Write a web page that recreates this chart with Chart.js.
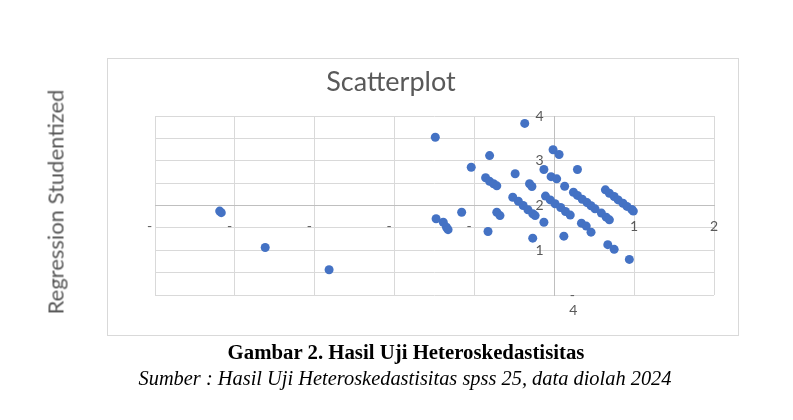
<!DOCTYPE html>
<html>
<head>
<meta charset="utf-8">
<script src="https://cdn.jsdelivr.net/npm/chart.js@4.4.1/dist/chart.umd.min.js"></script>
<style>
  html, body { margin: 0; padding: 0; background: #ffffff; }
  #wrap { position: relative; width: 793px; height: 420px; overflow: hidden; background: #fff; }
  #box { position: absolute; left: 107px; top: 58px; width: 632px; height: 278px; border: 1px solid #d9d9d9; box-sizing: border-box; }
  #c { position: absolute; left: 0; top: 0; }
  .t { position: absolute; white-space: nowrap; }
  #title { left: 391px; top: 80px; transform: translate(-50%, -50%); font-family: Lato, "Noto Sans", sans-serif; font-size: 27px; color: #595959; }
  #ytitle { left: 55px; top: 202px; transform: translate(-50%, -50%) rotate(-90deg); font-family: Lato, "Noto Sans", sans-serif; font-size: 22px; color: #595959; }
  #cap1 { left: 406px; top: 352px; transform: translate(-50%, -50%) scaleX(1.04); font-family: "Liberation Serif", "Times New Roman", serif; font-weight: bold; font-size: 20px; color: #000; }
  #cap2 { left: 405px; top: 378px; transform: translate(-50%, -50%) scaleX(1.02); font-family: "Liberation Serif", "Times New Roman", serif; font-style: italic; font-size: 20px; color: #000; }
</style>
</head>
<body>
<div id="wrap">
  <div id="box"></div>
  <canvas id="c" width="793" height="420"></canvas>
  <div class="t" id="title">Scatterplot</div>
  <div class="t" id="ytitle">Regression Studentized</div>
  <div class="t" id="cap1">Gambar 2. Hasil Uji Heteroskedastisitas</div>
  <div class="t" id="cap2">Sumber : Hasil Uji Heteroskedastisitas spss 25, data diolah 2024</div>
</div>
<script>
// ---- data ----
const xValues = [
  -4.19, -4.17, -3.62, -2.82,
  -1.49, -0.37, -0.81, -1.04, -0.015, 0.06, -0.49, -0.13, 0.29,
  -0.86, -0.81, -0.76, -0.72, -0.04, 0.03, -0.31, -0.28, 0.13,
  -0.52, -0.45, -0.39, -0.33, -0.27, -0.24,
  -0.11, -0.05, 0.01, 0.08, 0.14, 0.20,
  0.24, 0.29, 0.35, 0.41, 0.46, 0.51,
  0.59, 0.65, 0.69,
  0.64, 0.69, 0.75, 0.80, 0.86, 0.91, 0.97, 0.99,
  -0.72, -0.68, -1.16,
  -1.48, -1.39, -1.35, -1.33,
  -0.83, -0.13, 0.34, 0.40, 0.46, -0.27, 0.12, 0.67, 0.75, 0.94
];
const yValues = [
  -0.25, -0.32, -1.875, -2.87,
  3.05, 3.67, 2.23, 1.71, 2.49, 2.28, 1.42, 1.61, 1.61,
  1.24, 1.08, 0.97, 0.88, 1.29, 1.19, 0.97, 0.85, 0.86,
  0.37, 0.19, 0.00, -0.19, -0.37, -0.45,
  0.42, 0.25, 0.08, -0.09, -0.27, -0.43,
  0.59, 0.45, 0.28, 0.13, -0.01, -0.15,
  -0.34, -0.52, -0.64,
  0.70, 0.55, 0.40, 0.25, 0.10, -0.04, -0.18, -0.25,
  -0.30, -0.45, -0.30,
  -0.59, -0.75, -0.97, -1.08,
  -1.16, -0.75, -0.79, -0.92, -1.19, -1.46, -1.37, -1.75, -1.96, -2.41
];
const xTickValues = [-5, -4, -3, -2, -1, 0, 1, 2];
const xTickLabels = ['-   ', '-   ', '-   ', '-   ', '-   ', '', '1', '2'];
const yTickValues = [4, 3, 2, 1, 0, -1, -2, -3, -4];
const yTickLabels = ['4   ', '', '3   ', '', '2   ', '', '1   ', '', ''];
const bottomExtraLabels = ['-', '4'];

const points = xValues.map((x, i) => ({ x: x, y: yValues[i] }));

const extraLabelPlugin = {
  id: 'extraLabel',
  afterDraw(chart) {
    const ctx = chart.ctx;
    const xs = chart.scales.x, ys = chart.scales.y;
    const px = xs.getPixelForValue(0);
    const py = ys.getPixelForValue(-4);
    ctx.save();
    ctx.fillStyle = '#595959';
    ctx.font = '14px Lato, "Noto Sans", sans-serif';
    ctx.textAlign = 'center';
    ctx.textBaseline = 'middle';
    ctx.fillText(bottomExtraLabels[0], px + 18, py);
    ctx.fillText(bottomExtraLabels[1], px + 19, py + 15);
    ctx.restore();
  }
};

new Chart(document.getElementById('c'), {
  type: 'scatter',
  data: {
    datasets: [{
      data: points,
      backgroundColor: '#4472C4',
      borderColor: '#4472C4',
      pointRadius: 4.5,
      pointHoverRadius: 4.5,
      borderWidth: 0
    }]
  },
  options: {
    responsive: false,
    animation: false,
    layout: { padding: { left: 155, right: 79, top: 116, bottom: 125 } },
    plugins: { legend: { display: false }, tooltip: { enabled: false } },
    scales: {
      x: {
        type: 'linear',
        position: { y: 0 },
        min: -5, max: 2,
        afterBuildTicks: (s) => { s.ticks = xTickValues.map(v => ({ value: v })); },
        grid: { color: '#d9d9d9', lineWidth: 1, drawTicks: false },
        border: { color: '#bfbfbf', width: 1 },
        ticks: {
          padding: 13,
          color: '#595959',
          font: { family: 'Lato, "Noto Sans", sans-serif', size: 14 },
          maxRotation: 0,
          autoSkip: false,
          callback: (v) => { const i = xTickValues.indexOf(v); return i >= 0 ? xTickLabels[i] : ''; }
        }
      },
      y: {
        type: 'linear',
        position: { x: 0 },
        min: -4, max: 4,
        afterBuildTicks: (s) => { s.ticks = yTickValues.map(v => ({ value: v })); },
        grid: { color: '#d9d9d9', lineWidth: 1, drawTicks: false },
        border: { color: '#bfbfbf', width: 1 },
        ticks: {
          padding: 0,
          color: '#595959',
          font: { family: 'Lato, "Noto Sans", sans-serif', size: 14 },
          autoSkip: false,
          callback: (v) => { const i = yTickValues.indexOf(v); return i >= 0 ? yTickLabels[i] : ''; }
        }
      }
    }
  },
  plugins: [extraLabelPlugin]
});
</script>
</body>
</html>
